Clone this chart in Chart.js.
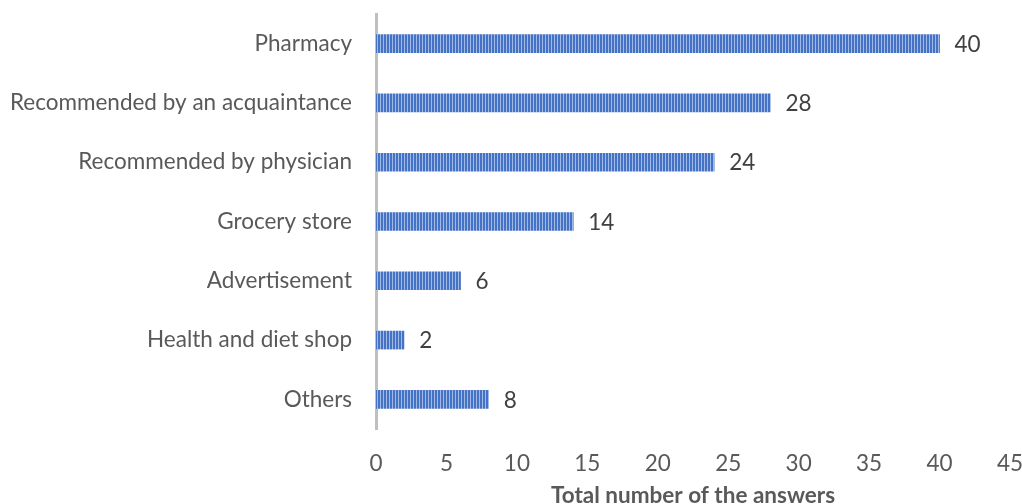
<!DOCTYPE html>
<html>
<head>
<meta charset="utf-8">
<script src="https://cdn.jsdelivr.net/npm/chart.js@4/dist/chart.umd.min.js"></script>
<style>
  html, body { margin: 0; padding: 0; background: #fff; }
  #wrap { width: 1022px; height: 504px; }
</style>
</head>
<body>
<div id="wrap"><canvas id="chart"></canvas></div>
<script>
const categories = [
  "Pharmacy",
  "Recommended by an acquaintance",
  "Recommended by physician",
  "Grocery store",
  "Advertisement",
  "Health and diet shop",
  "Others"
];
const answers = [40, 28, 24, 14, 6, 2, 8];
const xTicks = [0, 5, 10, 15, 20, 25, 30, 35, 40, 45];

// striped fill like the original bars
function stripes() {
  const c = document.createElement("canvas");
  c.width = 3; c.height = 4;
  const g = c.getContext("2d");
  g.fillStyle = "#4472c4";
  g.fillRect(0, 0, 2, 4);
  g.fillStyle = "#a3b9e6";
  g.fillRect(2, 0, 1, 4);
  return g.createPattern(c, "repeat");
}

const valueLabels = {
  id: "valueLabels",
  afterDatasetsDraw(chart) {
    const ctx = chart.ctx;
    const meta = chart.getDatasetMeta(0);
    ctx.save();
    ctx.font = "22.5px Lato";
    ctx.fillStyle = "#404040";
    ctx.textBaseline = "middle";
    meta.data.forEach((bar, i) => {
      ctx.fillText(answers[i], bar.x + 15, bar.y + 1);
    });
    ctx.restore();
  }
};

const ctx = document.getElementById("chart").getContext("2d");
new Chart(ctx, {
  type: "bar",
  data: {
    labels: categories,
    datasets: [{
      data: answers,
      backgroundColor: stripes(),
      borderWidth: 0,
      barThickness: 18
    }]
  },
  options: {
    indexAxis: "y",
    responsive: true,
    maintainAspectRatio: false,
    animation: false,
    layout: { padding: { top: 14, right: 12, left: 0, bottom: 0 } },
    plugins: {
      legend: { display: false },
      tooltip: { enabled: false }
    },
    scales: {
      x: {
        min: 0,
        max: 45,
        afterBuildTicks: (s) => { s.ticks = xTicks.map(v => ({ value: v })); },
        grid: { display: false, drawTicks: false },
        border: { display: false },
        ticks: {
          padding: 21,
          color: "#595959",
          font: { family: "Lato", size: 22.5 }
        },
        title: {
          display: true,
          text: "Total number of the answers",
          color: "#595959",
          font: { family: "Lato", size: 22.5, weight: "bold", lineHeight: 1 },
          padding: { top: 0, bottom: -3 }
        },
        afterFit: (s) => {
          s.height = 75;
          s.paddingLeft = 0;
          s.paddingRight = 0;
        }
      },
      y: {
        grid: { display: false, drawTicks: false },
        border: { display: true, color: "#bfbfbf", width: 3 },
        ticks: {
          padding: 24,
          color: "#595959",
          font: { family: "Lato", size: 22.5 }
        },
        afterFit: (s) => {
          s.width = 376;
          s.paddingTop = 0;
          s.paddingBottom = 0;
        }
      }
    }
  },
  plugins: [valueLabels]
});
</script>
</body>
</html>
